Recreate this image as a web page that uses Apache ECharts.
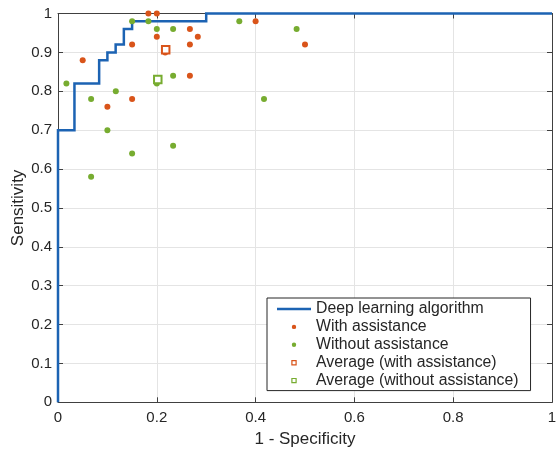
<!DOCTYPE html>
<html>
<head>
<meta charset="utf-8">
<script src="https://cdn.jsdelivr.net/npm/echarts@6/dist/echarts.min.js"></script>
<style>html,body{margin:0;padding:0;background:#fff;}#c{width:558px;height:452px;}</style>
</head>
<body>
<div id="c"></div>
<script>
// ROC curve of the deep learning algorithm (1 - specificity, sensitivity)
var rocFpr = [0, 0, 0.0333, 0.0333, 0.0833, 0.0833, 0.1, 0.1, 0.1167, 0.1167, 0.1333, 0.1333, 0.15, 0.15, 0.3, 0.3, 1];
var rocTpr = [0, 0.70, 0.70, 0.82, 0.82, 0.88, 0.88, 0.90, 0.90, 0.92, 0.92, 0.96, 0.96, 0.98, 0.98, 1.0, 1.0];

// Readers with assistance
var withFpr  = [0.183, 0.2, 0.4, 0.2, 0.267, 0.283, 0.15, 0.267, 0.5, 0.05, 0.217, 0.267, 0.15, 0.1];
var withSens = [1.0, 1.0, 0.98, 0.94, 0.96, 0.94, 0.92, 0.92, 0.92, 0.88, 0.90, 0.84, 0.78, 0.76];

// Readers without assistance
var withoutFpr  = [0.15, 0.183, 0.367, 0.2, 0.233, 0.483, 0.233, 0.017, 0.2, 0.117, 0.067, 0.417, 0.1, 0.233, 0.15, 0.067];
var withoutSens = [0.98, 0.98, 0.98, 0.96, 0.96, 0.96, 0.84, 0.82, 0.82, 0.80, 0.78, 0.78, 0.70, 0.66, 0.64, 0.58];

// Averages
var avgWith = [0.218, 0.907];
var avgWithout = [0.202, 0.830];

var xTicks = [0, 0.2, 0.4, 0.6, 0.8, 1];
var yTicks = [0, 0.1, 0.2, 0.3, 0.4, 0.5, 0.6, 0.7, 0.8, 0.9, 1];

var names = ['Deep learning algorithm', 'With assistance', 'Without assistance', 'Average (with assistance)', 'Average (without assistance)'];

function zip(a, b) { return a.map(function (v, i) { return [v, b[i]]; }); }

var BLUE = '#1c63b3', ORANGE = '#d9541a', GREEN = '#77ac30';
var AX = '#404040', TXT = '#262626', GRID = '#e4e4e4';
var FONT = '"Liberation Sans", Arial, sans-serif';

var chart = echarts.init(document.getElementById('c'), null, {renderer: 'canvas'});

var iconLine = 'path://M0,0 M34,14 M0,5.8 L34,5.8 L34,8.2 L0,8.2 Z';
var iconDot = 'path://M0,0 M34,14 M14.8,7 A2.2,2.2 0 1,0 19.2,7 A2.2,2.2 0 1,0 14.8,7 Z';
var iconSq = 'path://M0,0 M34,14 M14.3,4.3 L19.7,4.3 L19.7,9.7 L14.3,9.7 Z M15.5,5.5 L15.5,8.5 L18.5,8.5 L18.5,5.5 Z';

function baseX(extra) {
  return Object.assign({
    type: 'value', min: 0, max: 1, interval: 0.2,
    axisLine: {show: true, onZero: false, lineStyle: {color: AX, width: 1}},
    axisTick: {show: true, inside: true, length: 5, lineStyle: {color: AX}},
    splitLine: {show: false}
  }, extra);
}
function baseY(extra) {
  return Object.assign({
    type: 'value', min: 0, max: 1, interval: 0.1,
    axisLine: {show: true, onZero: false, lineStyle: {color: AX, width: 1}},
    axisTick: {show: true, inside: true, length: 5, lineStyle: {color: AX}},
    splitLine: {show: false}
  }, extra);
}

chart.setOption({
  animation: false,
  backgroundColor: '#fff',
  textStyle: {fontFamily: FONT},
  grid: {left: 58, right: 6, top: 13.5, bottom: 49.7, containLabel: false, outerBoundsMode: 'none'},
  xAxis: [
    baseX({
      position: 'bottom',
      name: '1 - Specificity', nameLocation: 'middle', nameGap: 28.5, nameMoveOverlap: false,
      nameTextStyle: {fontSize: 17, color: TXT, fontFamily: FONT},
      axisLabel: {show: true, margin: 8, fontSize: 15, color: TXT, fontFamily: FONT,
        formatter: function (v) { return xTicks.indexOf(Math.round(v * 10) / 10) >= 0 ? String(Math.round(v * 10) / 10) : ''; }},
      splitLine: {show: true, lineStyle: {color: GRID, width: 1}}
    }),
    baseX({position: 'top', axisLabel: {show: false}})
  ],
  yAxis: [
    baseY({
      position: 'left',
      name: 'Sensitivity', nameLocation: 'middle', nameGap: 31.5, nameMoveOverlap: false,
      nameTextStyle: {fontSize: 17, color: TXT, fontFamily: FONT},
      axisLabel: {show: true, margin: 6, fontSize: 15, color: TXT, fontFamily: FONT,
        formatter: function (v) { var r = Math.round(v * 10) / 10; return yTicks.indexOf(r) >= 0 ? String(r) : ''; }},
      splitLine: {show: true, lineStyle: {color: GRID, width: 1}}
    }),
    baseY({position: 'right', axisLabel: {show: false}})
  ],
  legend: {
    orient: 'vertical',
    left: 267, top: 298,
    padding: [3, 12, 2, 10],
    itemWidth: 34, itemHeight: 14, itemGap: 1.9,
    borderColor: '#262626', borderWidth: 1, borderRadius: 0,
    backgroundColor: '#fff',
    selectedMode: false,
    textStyle: {fontSize: 15.8, color: TXT, fontFamily: FONT, padding: [0, 0, 0, 0]},
    data: [
      {name: names[0], icon: iconLine, itemStyle: {color: BLUE, borderWidth: 0}},
      {name: names[1], icon: iconDot, itemStyle: {color: ORANGE, borderWidth: 0}},
      {name: names[2], icon: iconDot, itemStyle: {color: GREEN, borderWidth: 0}},
      {name: names[3], icon: iconSq, itemStyle: {color: ORANGE, borderWidth: 0}},
      {name: names[4], icon: iconSq, itemStyle: {color: GREEN, borderWidth: 0}}
    ]
  },
  series: [
    {
      name: names[0], type: 'line', data: zip(rocFpr, rocTpr),
      symbol: 'none', clip: false, z: 2,
      lineStyle: {color: BLUE, width: 2.5, join: 'miter'},
      itemStyle: {color: BLUE}
    },
    {
      name: names[1], type: 'scatter', data: zip(withFpr, withSens),
      symbol: 'circle', symbolSize: 6, clip: false, z: 3,
      itemStyle: {color: ORANGE, opacity: 1}
    },
    {
      name: names[2], type: 'scatter', data: zip(withoutFpr, withoutSens),
      symbol: 'circle', symbolSize: 6, clip: false, z: 3,
      itemStyle: {color: GREEN, opacity: 1}
    },
    {
      name: names[3], type: 'scatter', data: [avgWith],
      symbol: 'emptyRect', symbolSize: 7.5, clip: false, z: 4,
      itemStyle: {color: ORANGE, borderColor: ORANGE, borderWidth: 2, opacity: 1}
    },
    {
      name: names[4], type: 'scatter', data: [avgWithout],
      symbol: 'emptyRect', symbolSize: 7.5, clip: false, z: 4,
      itemStyle: {color: GREEN, borderColor: GREEN, borderWidth: 2, opacity: 1}
    }
  ]
});
</script>
</body>
</html>
